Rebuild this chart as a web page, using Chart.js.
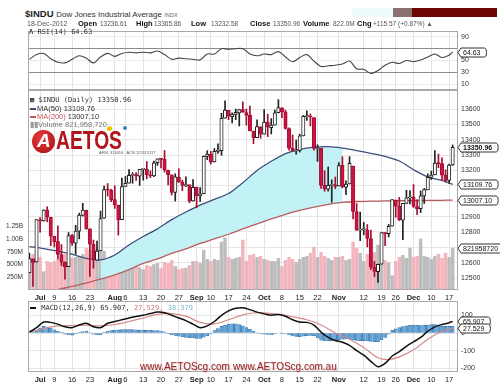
<!DOCTYPE html>
<html>
<head>
<meta charset="utf-8">
<script src="https://cdn.jsdelivr.net/npm/chart.js@4.4.1/dist/chart.umd.min.js"></script>
<style>
  html, body { margin: 0; padding: 0; background: #fff; }
  #wrap { position: relative; width: 500px; height: 386px; overflow: hidden; font-family: "Liberation Sans", Arial, sans-serif; color: #222; }
  canvas { position: absolute; left: 0; }
  .t { position: absolute; white-space: nowrap; line-height: 9px; }
  .hd { font-size: 6.5px; top: 19px; color: #555; }
  .hd b { color: #111; font-size: 7.5px; }
  .mono { font-family: "DejaVu Sans Mono", monospace; font-size: 7px; color: #333; }
  .leg { font-size: 7.5px; color: #333; }
  .dash { display: inline-block; width: 6px; height: 2px; vertical-align: middle; margin-right: 1px; }
</style>
</head>
<body>
<div id="wrap">
  <canvas id="rsi" width="500" height="59" style="top:31px"></canvas>
  <canvas id="price" width="500" height="214" style="top:89px"></canvas>
  <canvas id="macd" width="500" height="84" style="top:301px"></canvas>

  <!-- header -->
  <div class="t" style="left:25px;top:8px;font-size:9.5px;line-height:11px;"><b>$INDU</b> <span style="font-size:8px;color:#333">Dow Jones Industrial Average</span> <span style="font-size:5.5px;color:#666">INDX</span></div>
  <div class="t hd" style="left:27px;font-size:7px">18-Dec-2012</div>
  <div class="t hd" style="left:78px"><b>Open</b></div>
  <div class="t hd" style="left:100px">13236.61</div>
  <div class="t hd" style="left:136px"><b>High</b></div>
  <div class="t hd" style="left:154px">13365.86</div>
  <div class="t hd" style="left:191px"><b>Low</b></div>
  <div class="t hd" style="left:211px">13232.58</div>
  <div class="t hd" style="left:250px"><b>Close</b></div>
  <div class="t hd" style="left:273px">13350.96</div>
  <div class="t hd" style="left:303px"><b>Volume</b></div>
  <div class="t hd" style="left:333px">822.0M</div>
  <div class="t hd" style="left:357px"><b>Chg</b></div>
  <div class="t hd" style="left:373px">+115.57 (+0.87%) &#9650;</div>
  <div style="position:absolute;left:352px;top:8px;width:41px;height:9px;background:#effbfd"></div>
  <div style="position:absolute;left:393px;top:8px;width:19px;height:9px;background:#8c7070"></div>
  <div style="position:absolute;left:412px;top:8px;width:85px;height:9px;background:#6c0606"></div>

  <!-- panel legends -->
  <div class="t mono" style="left:29px;top:28px"><b style="color:#444">&#923;</b> RSI(14) 64.63</div>
  <div class="t mono" style="left:30px;top:96px">&#9638; $INDU (Daily) 13350.96</div>
  <div class="t leg" style="left:30px;top:104px"><span class="dash" style="background:#3e4d7a"></span>MA(50) 13109.76</div>
  <div class="t leg" style="left:30px;top:112px"><span class="dash" style="background:#c0595c"></span><span style="color:#c0595c">MA(200)</span> 13007.10</div>
  <div class="t leg" style="left:30px;top:120px;color:#777"><span style="color:#999">&#9646;&#9646;</span>Volume 821,958,720</div>
  <div class="t mono" style="left:30px;top:304px"><span class="dash" style="background:#111"></span> MACD(12,26,9) 65.907, <span style="color:#c87a7a">27.529,</span> <span style="color:#7fb3cf">38.379</span></div>

  <!-- AETOS logo -->
  <div style="position:absolute;left:32px;top:130px;width:23px;height:23px;border-radius:50%;background:radial-gradient(circle at 40% 35%, #e8383a, #a30f12);"></div>
  <div class="t" style="left:37px;top:131px;font-size:19px;line-height:20px;font-weight:bold;font-style:italic;color:#fff;">A</div>
  <div class="t" style="left:56px;top:126px;font-size:26px;line-height:28px;font-weight:bold;color:#b3141b;transform:scaleX(0.74);transform-origin:left top;">AETOS</div>
  <div style="position:absolute;left:107px;top:126px;width:5px;height:5px;border-radius:50%;background:#f2c200"></div>
  <div style="position:absolute;left:123px;top:126px;width:4px;height:4px;border-radius:50%;background:#3a86c8"></div>
  <div class="t" style="left:99px;top:150px;font-size:4px;line-height:5px;color:#555">AFSL 313016 &nbsp; ACN 125113117</div>

  <!-- watermark -->
  <div class="t" style="left:140px;top:361px;font-size:10px;line-height:11px;color:#a31c1c;text-shadow:1px 1px 1px #c8c8c8;">www.AETOScg.com</div>
  <div class="t" style="left:233px;top:361px;font-size:10px;line-height:11px;color:#a31c1c;text-shadow:1px 1px 1px #c8c8c8;">www.AETOScg.com.au</div>
</div>

<script>
// trading days shown on the chart
const dates = [
  "Jun 27","Jun 28","Jun 29",
  "Jul 2","Jul 3","Jul 5","Jul 6","Jul 9","Jul 10","Jul 11","Jul 12","Jul 13","Jul 16","Jul 17","Jul 18","Jul 19","Jul 20","Jul 23","Jul 24","Jul 25","Jul 26","Jul 27","Jul 30","Jul 31",
  "Aug 1","Aug 2","Aug 3","Aug 6","Aug 7","Aug 8","Aug 9","Aug 10","Aug 13","Aug 14","Aug 15","Aug 16","Aug 17","Aug 20","Aug 21","Aug 22","Aug 23","Aug 24","Aug 27","Aug 28","Aug 29","Aug 30","Aug 31",
  "Sep 4","Sep 5","Sep 6","Sep 7","Sep 10","Sep 11","Sep 12","Sep 13","Sep 14","Sep 17","Sep 18","Sep 19","Sep 20","Sep 21","Sep 24","Sep 25","Sep 26","Sep 27","Sep 28",
  "Oct 1","Oct 2","Oct 3","Oct 4","Oct 5","Oct 8","Oct 9","Oct 10","Oct 11","Oct 12","Oct 15","Oct 16","Oct 17","Oct 18","Oct 19","Oct 22","Oct 23","Oct 24","Oct 25","Oct 26","Oct 31",
  "Nov 1","Nov 2","Nov 5","Nov 6","Nov 7","Nov 8","Nov 9","Nov 12","Nov 13","Nov 14","Nov 15","Nov 16","Nov 19","Nov 20","Nov 21","Nov 23","Nov 26","Nov 27","Nov 28","Nov 29","Nov 30",
  "Dec 3","Dec 4","Dec 5","Dec 6","Dec 7","Dec 10","Dec 11","Dec 12","Dec 13","Dec 14","Dec 17","Dec 18"
];

const open = [
  12535,12625,12604,
  12879,12871,12942,12895,12771,12737,12652,12603,12574,12776,12727,12805,12908,12941,12820,12720,12617,12677,12889,13075,13071,
  13010,12974,12880,13097,13118,13168,13174,13163,13207,13208,13171,13165,13251,13274,13272,13201,13171,13057,13157,13123,13102,13107,13002,
  13092,13035,13049,13292,13306,13255,13324,13329,13540,13591,13551,13565,13575,13597,13577,13559,13457,13413,13485,
  13437,13515,13479,13495,13576,13607,13582,13473,13346,13327,13330,13425,13550,13555,13545,13343,13344,13103,13078,13103,13107,
  13100,13233,13092,13113,13229,12932,12812,12815,12812,12757,12570,12542,12590,12793,12788,12838,13008,12967,12876,12986,13022,
  13026,12965,12952,13034,13074,13155,13171,13249,13245,13169,13136,13237
];
const high = [
  12662,12625,12880,
  12893,12944,12964,12895,12772,12839,12718,12606,12796,12784,12843,12922,12986,12942,12820,12747,12741,12936,13098,13115,13078,
  13101,12975,13150,13161,13206,13186,13186,13208,13207,13258,13198,13262,13276,13276,13330,13202,13171,13179,13211,13138,13158,13108,13141,
  13092,13089,13294,13329,13324,13343,13374,13573,13653,13592,13576,13600,13597,13647,13600,13620,13457,13529,13485,
  13597,13567,13538,13594,13661,13610,13593,13477,13431,13398,13436,13558,13588,13568,13545,13368,13344,13199,13223,13139,13157,
  13251,13290,13133,13290,13229,12985,12929,12862,12848,12812,12608,12590,12796,12796,12849,13010,13008,13025,12986,13071,13069,
  13108,13011,13067,13083,13178,13196,13330,13307,13283,13205,13241,13366
];
const low = [
  12534,12446,12604,
  12798,12870,12866,12711,12703,12625,12581,12492,12574,12712,12655,12755,12903,12817,12510,12564,12617,12677,12888,13033,12997,
  12953,12779,12880,13096,13117,13117,13136,13103,13137,13145,13153,13160,13233,13217,13189,13106,13040,13001,13123,13069,13094,12990,13000,
  12957,12999,13048,13270,13242,13255,13311,13299,13540,13531,13510,13531,13490,13579,13495,13457,13375,13413,13410,
  13437,13420,13438,13495,13576,13544,13469,13333,13325,13306,13320,13425,13526,13490,13332,13259,13083,13065,13066,12993,13081,
  13100,13087,13042,13112,12885,12810,12743,12781,12702,12556,12509,12471,12590,12710,12767,12838,12896,12874,12750,12986,12983,
  12959,12913,12926,12985,13074,13141,13171,13218,13137,13125,13118,13233
];
const close = [
  12627,12602,12880,
  12871,12943,12897,12772,12736,12653,12605,12573,12777,12727,12806,12909,12943,12822,12721,12618,12676,12887,13076,13073,13009,
  12976,12879,13096,13117,13169,13175,13165,13208,13207,13172,13165,13250,13276,13272,13203,13173,13058,13158,13124,13103,13108,13001,13091,
  13036,13048,13292,13307,13254,13324,13333,13540,13594,13553,13565,13578,13597,13579,13559,13458,13414,13486,13437,
  13515,13482,13495,13575,13610,13583,13474,13345,13326,13329,13425,13552,13557,13548,13344,13346,13103,13078,13104,13107,13096,
  13232,13093,13112,13246,12933,12811,12815,12815,12757,12571,12543,12589,12796,12789,12837,13010,12968,12879,12986,13022,13026,
  12966,12951,13035,13075,13155,13170,13249,13245,13170,13135,13235,13350.96
];
// volume, millions
const volumeM = [
  620,700,880,
  640,360,560,540,560,600,640,700,600,620,640,660,700,820,780,760,800,780,760,600,640,
  620,640,620,500,520,500,460,440,400,480,460,500,520,420,540,520,580,460,400,420,430,480,560,
  560,520,780,600,560,600,580,940,1020,640,600,620,640,980,560,680,700,640,660,
  600,580,560,560,620,460,580,640,600,540,600,640,660,720,840,640,740,660,620,580,640,
  640,660,580,600,940,820,720,560,700,780,740,880,620,580,540,280,560,640,680,620,820,
  640,660,1000,660,640,600,660,700,620,720,640,821.96
];

// moving averages, every 4 sessions
const maIdx = [0,4,8,12,16,20,24,28,32,36,40,44,48,52,56,60,64,68,72,76,80,84,88,92,96,100,104,108,112,116,119];
const ma50 = [12705,12692,12675,12655,12628,12618,12650,12715,12770,12820,12880,12930,12975,13012,13050,13120,13200,13260,13310,13338,13352,13355,13346,13330,13312,13292,13262,13205,13158,13135,13109.76];
const ma200 = [12372,12398,12425,12445,12468,12492,12520,12555,12595,12625,12660,12690,12725,12755,12785,12820,12852,12885,12915,12940,12962,12980,12992,12998,13000,13002,13003,13004,13005,13006,13007.10];
const bandFrom = 20, bandTo = 88;   // cyan shading between the averages

// RSI(14), every 2 sessions
const rsiIdx = [0,2,4,6,8,10,12,14,16,18,20,22,24,26,28,30,32,34,36,38,40,42,44,46,48,50,52,54,56,58,60,62,64,66,68,70,72,74,76,78,80,82,84,86,88,90,92,94,96,98,100,102,104,106,108,110,112,114,116,118,119];
const rsi = [52,60,62,53,47,46,52,58,54,46, 56,62,57,62,64,63,64,63,66,60, 52,54,53,52,51,61,61,70,69,70,
             70,61,58,61,60,65,56,48,55,60, 49,40,41,42,44,49,36,35,28,33, 42,47,45,50,48,51,56,61,55,59, 64.63];

// MACD(12,26,9)
const macdIdx = rsiIdx;
const macd = [5,30,62,60,50,35,30,45,55,35, 30,55,65,75,85,93,100,110,118,115, 100,85,70,50,30,40,65,100,125,140,
              142,132,118,108,100,105,95,75,62,60, 45,5,-25,-42,-52,-70,-100,-125,-160,-190, -172,-130,-105,-75,-50,-25,10,35,48,58, 65.907];
const sigIdx = [0,4,8,12,16,20,24,28,32,36,40,44,48,52,56,60,63,66,70,74,78,82,86,90,94,98,101,104,108,112,116,119];
const signal = [5,25,40,42,44,40,48,65,85,105,110,95,60,52,75,102,113,114,105,92,75,45,0,-35,-82,-140,-150,-135,-95,-35,10,27.529];
const hist = [
  0,8,15,28,37,34,28,18,10,2,
  -6,-9,-12,-5,2,8,11,3,-7,-10,
  -10,2,11,14,17,18,19,20,20,19,
  18,16,15,15,15,14,13,10,7,-2,
  -10,-14,-18,-22,-25,-27,-28,-30,-30,-24,
  -16,-2,13,25,37,44,50,52,52,47,
  40,30,21,11,3,-2,-6,-8,-10,-5,
  0,-2,-3,-10,-17,-20,-21,-18,-15,-14,
  -15,-28,-40,-44,-45,-43,-42,-38,-35,-34,
  -35,-39,-42,-43,-43,-45,-47,-49,-50,-38,
  -25,-6,15,24,30,36,40,43,45,44,
  42,44,45,47,47,43,38,37,37,38.379
];

// axis ticks
const tickDates = ["Jul 2","Jul 9","Jul 16","Jul 23","Aug 1","Aug 6","Aug 13","Aug 20","Aug 27","Sep 4","Sep 10","Sep 17","Sep 24","Oct 1","Oct 8","Oct 15","Oct 22","Nov 1","Nov 12","Nov 19","Nov 26","Dec 3","Dec 10","Dec 17"];
const tickText = ["Jul","9","16","23","Aug","6","13","20","27","Sep","10","17","24","Oct","8","15","22","Nov","12","19","26","Dec","10","17"];
const priceTicks = [12500,12600,12700,12800,12900,13000,13100,13200,13300,13400,13500,13600];
const volTicks = [250,500,750,1000,1250];
const volTickText = ["250M","500M","750M","1.00B","1.25B"];
const rsiTicks = [10,30,50,70,90];
const macdTicks = [-200,-100,0,100];

const tickPos = tickDates.map(d => dates.indexOf(d));
const pts = (xs, ys) => xs.map((x, i) => ({ x, y: ys[i] }));
const up = close.map((c, i) => c >= open[i]);

// --------------------
// shared setup
// --------------------
Chart.defaults.font.family = "'Liberation Sans', Arial, sans-serif";
Chart.defaults.color = '#333';
Chart.defaults.animation = false;
Chart.defaults.plugins.legend.display = false;
Chart.defaults.plugins.tooltip.enabled = false;

const framePlugin = {
  id: 'frame',
  afterDatasetsDraw(chart) {
    const a = chart.chartArea, c = chart.ctx;
    c.save();
    c.strokeStyle = '#a9a9a9';
    c.lineWidth = 1;
    c.strokeRect(a.left + 0.5, a.top + 0.5, a.width - 1, a.height - 1);
    c.restore();
  }
};

// value flags on the right axis
const tagPlugin = {
  id: 'tags',
  afterDraw(chart, args, opts) {
    const c = chart.ctx;
    (opts.items || []).forEach(t => {
      const y = Math.round(chart.scales[t.axis].getPixelForValue(t.value)) + 0.5;
      const x0 = chart.chartArea.right;
      c.save();
      c.font = (t.bold ? 'bold ' : '') + "7px 'Liberation Sans', Arial";
      const w = c.measureText(t.text).width + 5;
      const h = 9;
      c.beginPath();
      c.moveTo(x0, y);
      c.lineTo(x0 + 3, y - h / 2);
      c.lineTo(x0 + 4 + w, y - h / 2);
      c.quadraticCurveTo(x0 + 6 + w, y - h / 2, x0 + 6 + w, y);
      c.quadraticCurveTo(x0 + 6 + w, y + h / 2, x0 + 4 + w, y + h / 2);
      c.lineTo(x0 + 3, y + h / 2);
      c.closePath();
      c.fillStyle = '#fff';
      c.fill();
      c.lineWidth = 1;
      c.strokeStyle = '#333';
      c.stroke();
      c.fillStyle = '#111';
      c.textBaseline = 'middle';
      c.fillText(t.text, x0 + 5, y + 0.5);
      c.restore();
    });
  }
};
Chart.register(framePlugin, tagPlugin);

function xScale(showLabels) {
  return {
    type: 'linear', min: -0.4, max: 120.5, offset: false,
    afterBuildTicks: ax => { ax.ticks = tickPos.map(v => ({ value: v })); },
    afterFit: ax => { ax.height = showLabels ? 13 : 0; ax.paddingLeft = 0; ax.paddingRight = 0; },
    grid: { color: '#e3e3e3', drawTicks: false, offset: false },
    border: { display: false },
    ticks: {
      display: showLabels, autoSkip: false, maxRotation: 0, padding: 3, color: '#222',
      font: ctx => ({ size: 7.5, weight: /[A-Za-z]/.test(tickText[ctx.index] || '') ? 'bold' : 'normal' }),
      callback: (v, i) => tickText[i]
    }
  };
}

function rightAxis(min, max, ticks, extra) {
  return Object.assign({
    position: 'right', min, max,
    afterBuildTicks: ax => { ax.ticks = ticks.map(v => ({ value: v })); },
    afterFit: ax => { ax.width = 42; ax.paddingTop = 0; ax.paddingBottom = 0; },
    grid: { color: '#e6e6e6', drawTicks: false },
    border: { display: false },
    ticks: { padding: 3, font: { size: 7 }, color: '#333' }
  }, extra);
}

// --------------------
// RSI panel
// --------------------
new Chart(document.getElementById('rsi'), {
  type: 'line',
  data: {
    datasets: [{ data: pts(rsiIdx, rsi), borderColor: '#454545', borderWidth: 1.1, pointRadius: 0, tension: 0.35 }]
  },
  options: {
    responsive: false, devicePixelRatio: 1,
    layout: { padding: { left: 28, top: 0, right: 0, bottom: 0 } },
    scales: {
      x: xScale(false),
      y: rightAxis(0, 100, rsiTicks, {
        grid: { drawTicks: false, color: ctx => (ctx.tick && (ctx.tick.value === 70 || ctx.tick.value === 30)) ? '#8c8c8c' : '#ededed' },
        ticks: { padding: 3, font: { size: 7 }, color: '#333', callback: v => v === 70 ? '' : v }
      })
    },
    plugins: { tags: { items: [{ axis: 'y', value: 64.63, text: '64.63' }] } }
  }
});

// --------------------
// Price panel: candles, MAs, volume
// --------------------
const bandIdx = maIdx.filter(i => i >= bandFrom && i <= bandTo);
new Chart(document.getElementById('price'), {
  type: 'bar',
  data: {
    datasets: [
      { // 0 volume
        type: 'bar', yAxisID: 'vol', order: 10, grouped: false, barThickness: 2.8,
        data: volumeM.map((v, i) => ({ x: i, y: v })),
        backgroundColor: volumeM.map((v, i) => up[i] ? '#bdbdbd' : '#f3b4bd')
      },
      { // 1 cyan band between the averages
        type: 'line', order: 9, pointRadius: 0, borderWidth: 0, tension: 0.3,
        data: bandIdx.map(i => ({ x: i, y: ma50[maIdx.indexOf(i)] })),
        fill: { target: 2, above: '#c3f2f6', below: 'rgba(0,0,0,0)' }
      },
      { // 2 MA(200)
        type: 'line', order: 8, pointRadius: 0, borderWidth: 1.3, tension: 0.3,
        borderColor: '#bb5c5e', data: pts(maIdx, ma200)
      },
      { // 3 MA(50)
        type: 'line', order: 7, pointRadius: 0, borderWidth: 1.3, tension: 0.3,
        borderColor: '#3f4e7b', data: pts(maIdx, ma50)
      },
      { // 4 wicks
        type: 'bar', order: 2, grouped: false, barThickness: 1,
        data: high.map((h, i) => ({ x: i, y: [low[i], h] })),
        backgroundColor: up.map(u => u ? '#222' : '#a80c30')
      },
      { // 5 bodies
        type: 'bar', order: 1, grouped: false, barThickness: 3.4, minBarLength: 1,
        borderSkipped: false, borderWidth: 1,
        data: open.map((o, i) => ({ x: i, y: [o, close[i]] })),
        backgroundColor: up.map(u => u ? '#ffffff' : '#cc1447'),
        borderColor: up.map(u => u ? '#222' : '#a80c30')
      }
    ]
  },
  options: {
    responsive: false, devicePixelRatio: 1,
    layout: { padding: { left: 0, top: 1, right: 0, bottom: 0 } },
    scales: {
      x: xScale(true),
      y: rightAxis(12422, 13724, priceTicks, {
        ticks: { padding: 3, font: { size: 7 }, color: '#333', callback: v => [12700, 13000, 13100].includes(v) ? '' : v }
      }),
      vol: {
        position: 'left', min: 0, max: 3920,
        afterBuildTicks: ax => { ax.ticks = volTicks.map(v => ({ value: v })); },
        afterFit: ax => { ax.width = 28; ax.paddingTop = 0; ax.paddingBottom = 0; },
        grid: { display: false, drawTicks: false },
        border: { display: false },
        ticks: { padding: 5, font: { size: 6.5 }, color: '#333', callback: (v, i) => volTickText[i] }
      }
    },
    plugins: {
      tags: { items: [
        { axis: 'y', value: 13350.96, text: '13350.96', bold: true },
        { axis: 'y', value: 13109.76, text: '13109.76' },
        { axis: 'y', value: 13007.10, text: '13007.10' },
        { axis: 'vol', value: 821.96, text: '821958720' }
      ] }
    }
  }
});

// --------------------
// MACD panel
// --------------------
new Chart(document.getElementById('macd'), {
  type: 'bar',
  data: {
    datasets: [
      { type: 'bar', order: 3, grouped: false, barThickness: 3, borderSkipped: false,
        data: hist.map((v, i) => ({ x: i, y: v })),
        backgroundColor: '#66a6d8', borderColor: '#2f6fa6', borderWidth: 0.6 },
      { type: 'line', order: 2, pointRadius: 0, borderWidth: 1.2, tension: 0.3,
        borderColor: '#d58a8a', data: pts(sigIdx, signal) },
      { type: 'line', order: 1, pointRadius: 0, borderWidth: 1.5, tension: 0.3,
        borderColor: '#111', data: pts(macdIdx, macd) }
    ]
  },
  options: {
    responsive: false, devicePixelRatio: 1,
    layout: { padding: { left: 28, top: 0, right: 0, bottom: 0 } },
    scales: {
      x: xScale(true),
      y: rightAxis(-220.3, 180.8, macdTicks)
    },
    plugins: {
      tags: { items: [
        { axis: 'y', value: 65.907, text: '65.907' },
        { axis: 'y', value: 27.529, text: '27.529' }
      ] }
    }
  }
});
</script>
</body>
</html>
